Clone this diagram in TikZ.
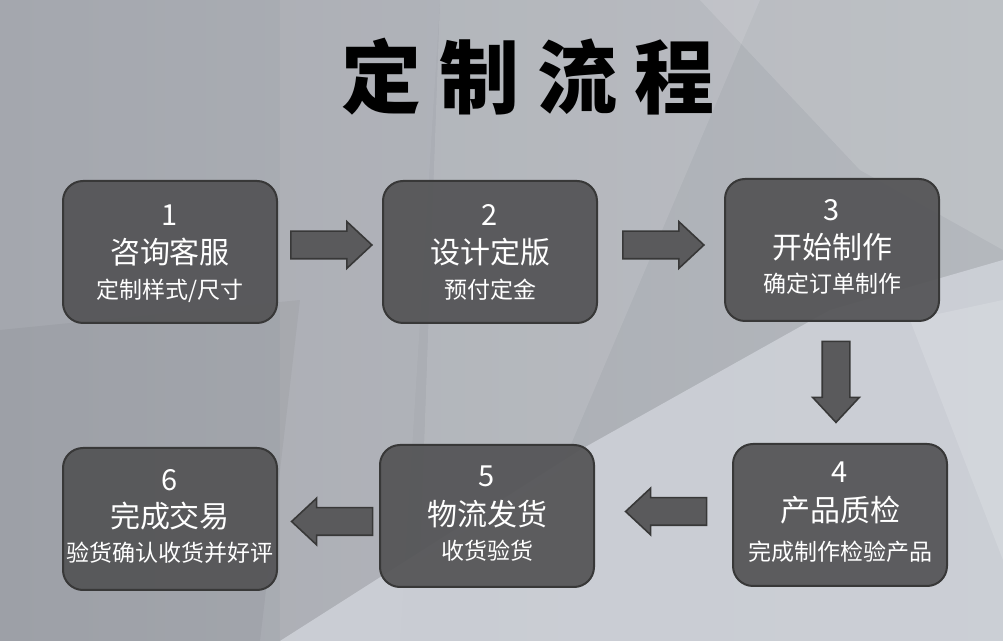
\documentclass[tikz,border=0pt]{standalone}
\usepackage{fontspec}
\newfontfamily\cjk{Noto Sans CJK SC}
\usetikzlibrary{calc,shapes.arrows}
\definecolor{bgbase}{HTML}{A4A7AE}
\definecolor{bglight}{HTML}{D4D7DE}
\definecolor{bgmid}{HTML}{B6BABF}
\definecolor{boxgrey}{HTML}{535355}
\definecolor{rimgrey}{HTML}{383838}
\definecolor{arrgrey}{HTML}{5A5A5C}
\tikzset{
  stepbox/.style = {draw=rimgrey, line width=1pt, fill=boxgrey, fill opacity=0.92,
                    rounded corners=10pt, minimum width=107pt, minimum height=71pt},
  numtxt/.style  = {text=white, font=\cjk\fontsize{14.5pt}{16pt}\selectfont, inner sep=0pt},
  maintxt/.style = {text=white, font=\cjk\fontsize{15pt}{17pt}\selectfont, inner sep=0pt},
  subtxt/.style  = {text=white, font=\cjk\fontsize{11.5pt}{13pt}\selectfont, inner sep=0pt},
  blockarr/.style = {single arrow, draw=rimgrey, line width=0.8pt, fill=arrgrey,
                     minimum height=40.5pt, inner xsep=0pt, inner ysep=6.5pt,
                     single arrow head extend=4.75pt, single arrow tip angle=86},
}
\begin{document}
\begin{tikzpicture}[x=0.5pt,y=-0.5pt]
  \useasboundingbox (0,0) rectangle (1003,641);
  % background
  \shade[left color=bgbase, right color=bgmid!90!bgbase] (0,0) rectangle (1003,641);
  \fill[white, opacity=0.06] (280,0) -- (440,0) -- (400,641) -- (280,641) -- cycle;
  \fill[white, opacity=0.10] (440,0) -- (760,0) -- (560,470) -- (420,560) -- cycle;
  \fill[white, opacity=0.13] (700,0) -- (1003,0) -- (1003,250) -- (860,170) -- cycle;
  \fill[black, opacity=0.04] (0,330) -- (300,300) -- (260,641) -- (0,641) -- cycle;
  \fill[bglight, opacity=0.75] (280,641) -- (580,450) -- (830,310) -- (1003,260)
    -- (1003,641) -- cycle;
  \fill[white, opacity=0.15] (910,320) -- (1003,300) -- (1003,560) -- cycle;
  % title
  \node[font=\cjk\bfseries\fontsize{40pt}{44pt}\selectfont, inner sep=0pt] (title)
    at (528,77) {定\kern9pt 制\kern9pt 流\kern9pt 程};
  % steps
  \node[stepbox] (b1) at (170,252) {};
  \node[stepbox] (b2) at (490,252) {};
  \node[stepbox] (b3) at (832,250) {};
  \node[stepbox] (b4) at (840,515) {};
  \node[stepbox] (b5) at (487,516) {};
  \node[stepbox] (b6) at (170,519) {};
  \node[numtxt]  (n1) at ($(b1)+(0,-37)$) {1};
  \node[maintxt] (m1) at ($(b1)+(0,0)$)   {咨询客服};
  \node[subtxt]  (s1) at ($(b1)+(0,39)$)  {定制样式/尺寸};
  \node[numtxt]  (n2) at ($(b2)+(0,-37)$) {2};
  \node[maintxt] (m2) at ($(b2)+(0,0)$)   {设计定版};
  \node[subtxt]  (s2) at ($(b2)+(0,38)$)  {预付定金};
  \node[numtxt]  (n3) at ($(b3)+(0,-40)$) {3};
  \node[maintxt] (m3) at ($(b3)+(0,-3)$)  {开始制作};
  \node[subtxt]  (s3) at ($(b3)+(0,34)$)  {确定订单制作};
  \node[numtxt]  (n4) at ($(b4)+(0,-43)$) {4};
  \node[maintxt] (m4) at ($(b4)+(0,-5)$)  {产品质检};
  \node[subtxt]  (s4) at ($(b4)+(0,37)$)  {完成制作检验产品};
  \node[numtxt]  (n5) at ($(b5)+(0,-40)$) {5};
  \node[maintxt] (m5) at ($(b5)+(0,-2)$)  {物流发货};
  \node[subtxt]  (s5) at ($(b5)+(0,35)$)  {收货验货};
  \node[numtxt]  (n6) at ($(b6)+(0,-39)$) {6};
  \node[maintxt] (m6) at ($(b6)+(0,-3)$)  {完成交易};
  \node[subtxt]  (s6) at ($(b6)+(0,34)$)  {验货确认收货并好评};
  % arrows between steps
  \node[blockarr] (a12) at ($(b1.east)!0.5!(b2.west)+(-6,-7)$) {};
  \node[blockarr] (a23) at ($(b2.east)!0.5!(b3.west)+(-5,-6)$) {};
  \node[blockarr, rotate=270] (a34) at ($(b3.south)!0.5!(b4.north)+(0,-8)$) {};
  \node[blockarr, rotate=180] (a45) at ($(b4.west)!0.5!(b5.east)+(10,-4)$) {};
  \node[blockarr, rotate=180] (a56) at ($(b5.west)!0.5!(b6.east)+(11,4)$) {};
\end{tikzpicture}
\end{document}
